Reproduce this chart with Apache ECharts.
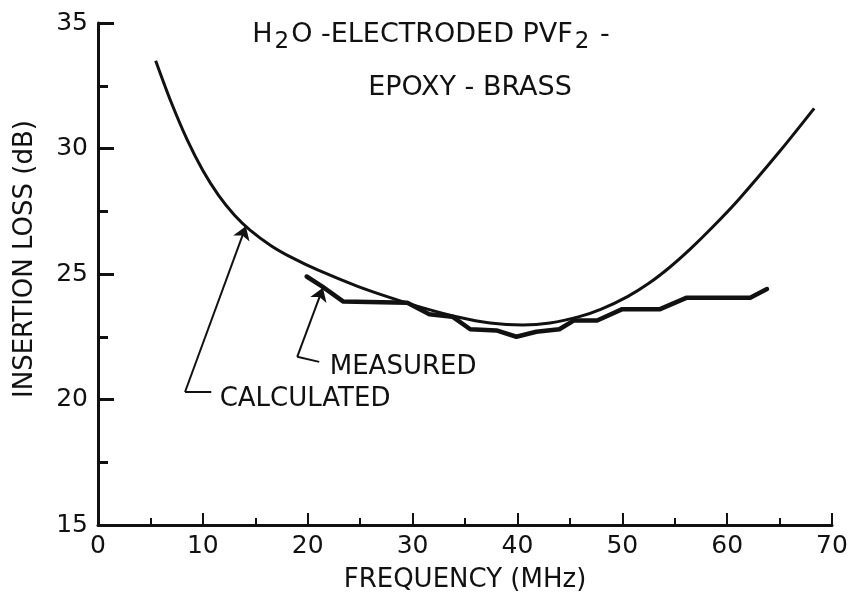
<!DOCTYPE html>
<html>
<head>
<meta charset="utf-8">
<title>Insertion loss</title>
<script src="https://cdn.jsdelivr.net/npm/echarts@6/dist/echarts.min.js"></script>
<style>
  html, body { margin: 0; padding: 0; background: #fff; }
  #insertion-loss { width: 856px; height: 604px; }
</style>
</head>
<body>
<div id="insertion-loss"></div>
<script>
// values: [MHz, dB]
var calculated = [
  [5.5, 33.5], [7.0, 31.82], [8.5, 30.35], [10.0, 29.12], [11.5, 28.13],
  [13.0, 27.35], [14.5, 26.75], [16.5, 26.13], [18.5, 25.65], [21.0, 25.15],
  [24.7, 24.52], [27.8, 24.07], [31.0, 23.65], [34.2, 23.3], [37.4, 23.05],
  [40.5, 22.97], [43.1, 23.05], [45.9, 23.3], [48.0, 23.6], [50.5, 24.1],
  [52.5, 24.62], [54.5, 25.26], [56.5, 26.0], [58.5, 26.82], [61.0, 27.92],
  [65.0, 29.88], [68.3, 31.6]
]
var measured = [
  [19.9, 24.9], [21.4, 24.5], [23.4, 23.9], [29.5, 23.85], [31.6, 23.4],
  [33.8, 23.3], [35.5, 22.8], [38.0, 22.75], [39.9, 22.5], [41.8, 22.7],
  [44.0, 22.8], [45.4, 23.15], [47.6, 23.15], [50.0, 23.6], [53.6, 23.6],
  [56.1, 24.05], [62.2, 24.05], [63.8, 24.4]
]
// leader lines of the two notes
var arrowLines = [
  [[8.3, 20.3], [14.1, 26.9]],
  [[19.0, 21.7], [21.45, 24.45]]
]
var hookLines = [
  [[8.3, 20.3], [10.8, 20.3]],
  [[19.0, 21.7], [21.1, 21.5]]
]
var noteNames = ['CALCULATED', 'MEASURED']
var notePos = [[11.6, 20.0], [22.1, 21.3]]

var xMin = 0, xMax = 70, xStep = 10
var yMin = 15, yMax = 35, yStep = 5

var font = 'DejaVu Sans'
var ink = '#111'

var myChart = echarts.init(document.getElementById('insertion-loss'))

var option = {
  animation: false,
  backgroundColor: '#fff',
  grid: { left: 98, right: 24, top: 23, bottom: 79 },
  graphic: [
    {
      type: 'text',
      x: 431,
      y: 36,
      style: {
        text: '{a|H}{s|2}{a|O -ELECTRODED PVF}{s|2}{a| -}',
        align: 'center',
        verticalAlign: 'middle',
        rich: {
          a: { fontFamily: font, fontSize: 27, lineHeight: 30, verticalAlign: 'top', fill: ink },
          s: { fontFamily: font, fontSize: 23, lineHeight: 26, padding: [10, 2, 0, 2], verticalAlign: 'top', fill: ink }
        }
      }
    },
    {
      type: 'text',
      x: 470,
      y: 88,
      style: {
        text: 'EPOXY - BRASS',
        fontFamily: font,
        fontSize: 27,
        fill: ink,
        align: 'center',
        verticalAlign: 'middle'
      }
    },
    {
      type: 'text',
      x: 25,
      y: 259,
      rotation: Math.PI / 2,
      style: {
        text: 'INSERTION LOSS (dB)',
        fontFamily: font,
        fontSize: 26,
        fill: ink,
        align: 'center',
        verticalAlign: 'middle'
      }
    }
  ],
  xAxis: {
    type: 'value',
    min: xMin,
    max: xMax,
    interval: xStep,
    name: 'FREQUENCY (MHz)',
    nameLocation: 'middle',
    nameGap: 42,
    nameTextStyle: { fontFamily: font, fontSize: 26, color: ink },
    axisLine: { lineStyle: { color: ink, width: 3 } },
    axisTick: { inside: true, length: 12, lineStyle: { color: ink, width: 2 } },
    minorTick: { show: true, splitNumber: 2, length: 7, lineStyle: { color: ink, width: 2 } },
    axisLabel: { fontFamily: font, fontSize: 25, color: ink, margin: 9 },
    splitLine: { show: false }
  },
  yAxis: {
    type: 'value',
    min: yMin,
    max: yMax,
    interval: yStep,
    axisLine: { show: true, lineStyle: { color: ink, width: 3 } },
    axisTick: { show: true, inside: true, length: 16, lineStyle: { color: ink, width: 3 } },
    minorTick: { show: true, splitNumber: 2, length: 10, lineStyle: { color: ink, width: 3 } },
    axisLabel: { fontFamily: font, fontSize: 25, color: ink, margin: 10 },
    splitLine: { show: false }
  },
  series: [
    {
      name: 'Calculated',
      type: 'line',
      data: calculated,
      smooth: 0.3,
      symbol: 'none',
      lineStyle: { color: ink, width: 3 }
    },
    {
      name: 'Measured',
      type: 'line',
      data: measured,
      symbol: 'none',
      lineStyle: { color: ink, width: 4.5, join: 'round', cap: 'round' }
    },
    {
      type: 'lines',
      coordinateSystem: 'cartesian2d',
      data: arrowLines.map(function (c) { return { coords: c } }),
      symbol: ['none', 'arrow'],
      symbolSize: 13,
      lineStyle: { color: ink, width: 2, opacity: 1 },
      z: 5
    },
    {
      type: 'lines',
      coordinateSystem: 'cartesian2d',
      data: hookLines.map(function (c) { return { coords: c } }),
      symbol: 'none',
      lineStyle: { color: ink, width: 2, opacity: 1 },
      z: 5
    },
    {
      type: 'scatter',
      symbolSize: 0,
      itemStyle: { opacity: 1, color: 'transparent' },
      data: noteNames.map(function (n, i) { return { name: n, value: notePos[i] } }),
      label: {
        show: true,
        position: 'right',
        distance: 0,
        formatter: '{b}',
        fontFamily: font,
        fontSize: 26,
        color: ink,
        opacity: 1
      },
      silent: true
    }
  ]
}
myChart.setOption(option)
</script>
</body>
</html>
